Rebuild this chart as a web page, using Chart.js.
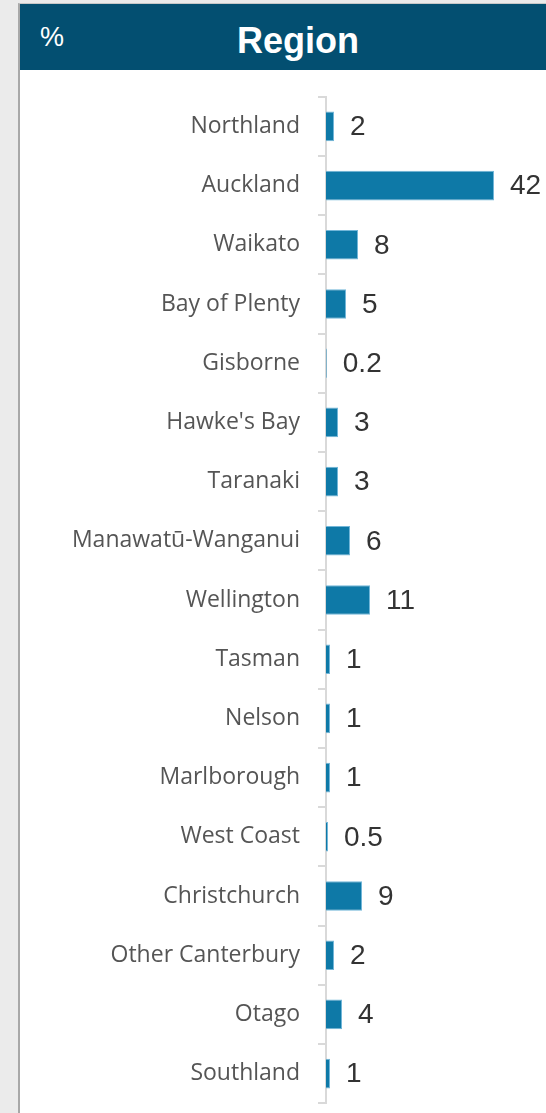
<!DOCTYPE html>
<html lang="en">
<head>
    <meta charset="UTF-8">
    <title>Region</title>
    <script src="https://cdn.jsdelivr.net/npm/chart.js"></script>
    <style>
        body {
            margin: 0;
            background-color: #ebebeb;
            width: 546px;
            height: 1113px;
            overflow: hidden;
        }
        .panel {
            position: absolute;
            left: 18px;
            top: 3px;
            width: 528px;
            height: 1110px;
            background-color: #fff;
            border-left: 2px solid #a8a8a8;
            border-top: 1px solid #c8c8c8;
            box-sizing: border-box;
            overflow: hidden;
        }
        .header {
            position: relative;
            height: 66px;
            background-color: #034f71;
            color: #fff;
            font-family: "Liberation Sans", Arial, sans-serif;
        }
        .header .unit {
            position: absolute;
            left: 20px;
            top: 20px;
            font-size: 27px;
            line-height: 27px;
        }
        .header .title {
            position: absolute;
            left: 0;
            right: 0;
            top: 19px;
            padding-left: 30px;
            text-align: center;
            font-size: 36px;
            line-height: 36px;
            font-weight: bold;
        }
        #chartContainer {
            position: absolute;
            left: -2px;
            top: 61px;
            width: 528px;
            height: 1070px;
        }
    </style>
</head>
<body>
    <div class="panel">
        <div class="header">
            <span class="unit">%</span>
            <div class="title">Region</div>
        </div>
        <div id="chartContainer">
            <canvas id="myChart"></canvas>
        </div>
    </div>

    <script>
        // Данные
        const regions = [
            'Northland', 'Auckland', 'Waikato', 'Bay of Plenty', 'Gisborne',
            "Hawke's Bay", 'Taranaki', 'Manawatū-Wanganui', 'Wellington', 'Tasman',
            'Nelson', 'Marlborough', 'West Coast', 'Christchurch', 'Other Canterbury',
            'Otago', 'Southland'
        ];
        const shares = [2, 42, 8, 5, 0.2, 3, 3, 6, 11, 1, 1, 1, 0.5, 9, 2, 4, 1];
        const xMax = 55;

        // Подписи значений справа от столбцов
        const valueLabels = {
            id: 'valueLabels',
            afterDatasetsDraw(chart) {
                const ctx = chart.ctx;
                const meta = chart.getDatasetMeta(0);
                ctx.save();
                ctx.font = '28px "Liberation Sans", Arial, sans-serif';
                ctx.fillStyle = '#333';
                ctx.textAlign = 'left';
                ctx.textBaseline = 'middle';
                meta.data.forEach((bar, i) => {
                    ctx.fillText(String(shares[i]), bar.x + 16, bar.y + 1);
                });
                ctx.restore();
            }
        };

        const ctx = document.getElementById('myChart').getContext('2d');
        new Chart(ctx, {
            type: 'bar',
            data: {
                labels: regions,
                datasets: [{
                    data: shares,
                    backgroundColor: '#0e79a7',
                    borderColor: '#72b6d8',
                    borderWidth: 1,
                    categoryPercentage: 1,
                    barPercentage: 0.5
                }]
            },
            options: {
                indexAxis: 'y',
                responsive: true,
                maintainAspectRatio: false,
                animation: false,
                layout: {
                    padding: { top: 10, bottom: 10, left: 0, right: 0 }
                },
                scales: {
                    x: {
                        display: false,
                        min: 0,
                        max: xMax
                    },
                    y: {
                        afterFit(scale) { scale.width = 308; },
                        grid: {
                            drawOnChartArea: false,
                            color: '#d9d9d9',
                            tickLength: 8,
                            lineWidth: 2
                        },
                        border: {
                            color: '#d9d9d9',
                            width: 2
                        },
                        ticks: {
                            padding: 18,
                            color: '#555',
                            font: { family: '"Open Sans", "Noto Sans", sans-serif', size: 23 }
                        }
                    }
                },
                plugins: {
                    legend: { display: false },
                    tooltip: { enabled: false }
                }
            },
            plugins: [valueLabels]
        });
    </script>
</body>
</html>
